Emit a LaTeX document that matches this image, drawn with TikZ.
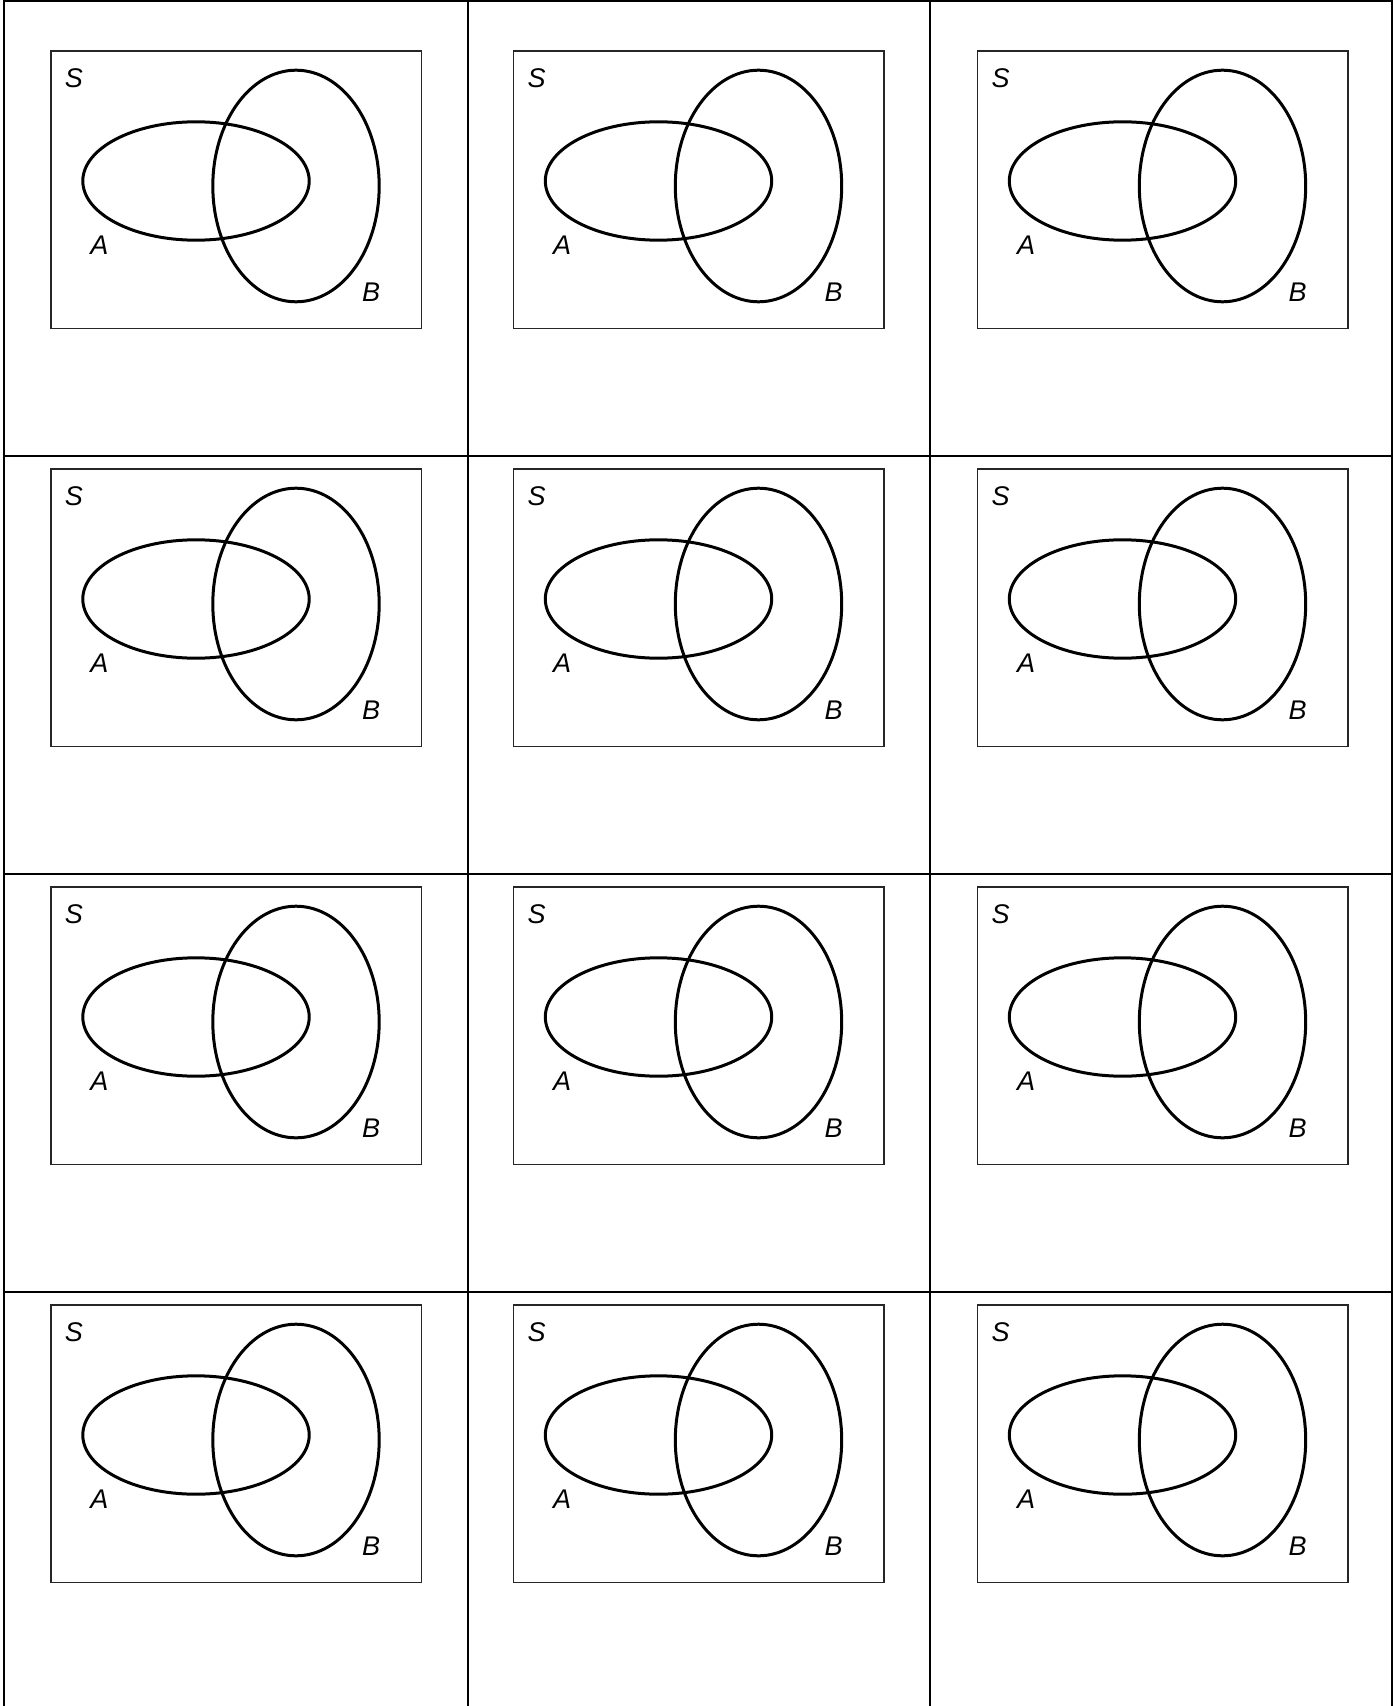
\documentclass[tikz,border=0pt]{standalone}
\usepackage{fontspec}
\setmainfont{Liberation Sans}
\begin{document}
\begin{tikzpicture}[x=0.5pt,y=-0.5pt,
  gridline/.style={line width=1pt,black},
  framebox/.style={line width=0.75pt,draw=black!85},
  setcurve/.style={line width=1.5pt,black},
  setlabel/.style={inner sep=0pt,font=\fontsize{13.5}{16}\selectfont\itshape}]
\useasboundingbox (0,0) rectangle (1393,1706);
% table grid
\coordinate (tl) at (4,1);
\coordinate (tr) at (1391.5,1);
\coordinate (bl) at (4,1706);
\coordinate (br) at (1391.5,1706);
\draw[gridline] (bl) -- (tl) -- (tr) -- (br);
\foreach \gx [count=\i] in {468,930}{
  \coordinate (vt\i) at (\gx,0);
  \coordinate (vb\i) at (\gx,1706);
  \draw[gridline] (vt\i) -- (vb\i);
}
\foreach \gy [count=\j] in {455.7,873.7,1291.7}{
  \coordinate (hl\j) at (4,\gy);
  \coordinate (hr\j) at (1391.5,\gy);
  \draw[gridline] (hl\j) -- (hr\j);
}
% Venn diagrams
\foreach \ox [count=\c] in {0,462.5,926.5}{
  \foreach \oy [count=\r] in {0,418,836,1254}{
    \begin{scope}[shift={(\ox,\oy)}]
      \draw[framebox] (51,51) rectangle (421.5,328.5);
      \draw[setcurve] (196,181) ellipse [x radius=56.6pt, y radius=29.6pt];
      \draw[setcurve] (296,186) ellipse [x radius=41.6pt, y radius=57.9pt];
      \node[setlabel] (S-\r-\c) at (74,78) {S};
      \node[setlabel] (A-\r-\c) at (99.5,245) {A};
      \node[setlabel] (B-\r-\c) at (371,292) {B};
    \end{scope}
  }
}
\end{tikzpicture}
\end{document}
